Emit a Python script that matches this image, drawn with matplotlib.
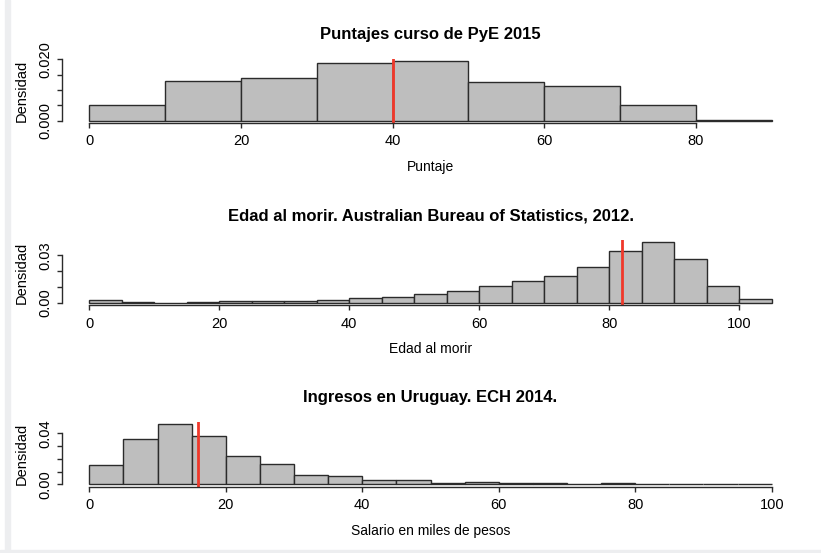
import numpy as np
from matplotlib import pyplot as plt
from matplotlib.patches import Rectangle

plt.rcParams['font.family'] = ['Liberation Sans', 'DejaVu Sans']

# Puntajes curso de PyE 2015 (bins of 10)
puntaje_breaks = [0, 10, 20, 30, 40, 50, 60, 70, 80, 90]
puntaje_dens = [0.0051, 0.0129, 0.0138, 0.0187, 0.0194, 0.0126, 0.0112, 0.0050, 0.0003]
puntaje_mark = 40

# Edad al morir (bins of 5)
edad_breaks = list(range(0, 110, 5))
edad_dens = [0.0019, 0.0004, 0.0002, 0.0008, 0.0010, 0.0013, 0.0014, 0.0019, 0.0030,
             0.0036, 0.0057, 0.0075, 0.0105, 0.0138, 0.0168, 0.0226, 0.0327, 0.0382,
             0.0275, 0.0107, 0.0023]
edad_mark = 82

# Ingresos en Uruguay (bins of 5)
ingreso_breaks = list(range(0, 105, 5))
ingreso_dens = [0.0152, 0.0353, 0.0473, 0.0382, 0.0222, 0.0159, 0.0073, 0.0068, 0.0031,
                0.0034, 0.0013, 0.0018, 0.0008, 0.0010, 0.0005, 0.0008, 0.0005, 0.0003,
                0.0003, 0.0005]
ingreso_mark = 16

W, H = 821, 553


def pixRect(top, bottom, left=62, right=799):
    return [left / W, 1 - bottom / H, (right - left) / W, (bottom - top) / H]


def drawHist(ax, breaks, dens, mark, title, xlabel, xticks, yticks, ylabels):
    lefts = np.array(breaks[:-1])
    widths = np.diff(breaks)
    ax.bar(lefts, dens, width=widths, align='edge', color='#BEBEBE',
           edgecolor='#2b2b2b', linewidth=1.0)
    ax.axvline(mark, color='#F0382A', linewidth=2.0)
    span = breaks[-1] - breaks[0]
    ax.set_xlim(breaks[0] - 0.04 * span, breaks[-1] + 0.04 * span)
    m = max(dens)
    ax.set_ylim(-0.04 * m, 1.04 * m)

    for s in ['top', 'right']:
        ax.spines[s].set_visible(False)
    for s in ['left', 'bottom']:
        ax.spines[s].set_color('#2b2b2b')
        ax.spines[s].set_linewidth(1.0)
    ax.spines['bottom'].set_bounds(xticks[0], xticks[-1])
    ax.spines['left'].set_bounds(yticks[0], yticks[-1])

    ax.set_xticks(xticks)
    ax.set_xticklabels([str(t) for t in xticks], fontsize=10.5)
    ax.set_yticks(yticks)
    ax.set_yticklabels(ylabels, fontsize=10.5, rotation=90, va='center')
    ax.tick_params(axis='both', direction='out', length=3.6, width=1.0, color='#2b2b2b')
    ax.tick_params(axis='x', pad=4.5)
    ax.tick_params(axis='y', pad=3)

    h = ax.get_position().height * H
    ax.text(0.5, 1 + 24 / h, title, transform=ax.transAxes, ha='center', va='center',
            fontsize=12, fontweight='bold')
    ax.text(0.5, -44 / h, xlabel, transform=ax.transAxes, ha='center', va='center',
            fontsize=10)
    ax.text(-40.5 / (737), 0.5, 'Densidad', transform=ax.transAxes, ha='center',
            va='center', rotation=90, fontsize=10.5)


def main():
    fig = plt.figure(figsize=(W / 100, H / 100), dpi=100)

    # screenshot frame
    fig.patches.append(Rectangle((5 / W, 0), 5 / W, 1, transform=fig.transFigure,
                                 color='#EDEEF0', zorder=0))
    fig.patches.append(Rectangle((0, 0), 1, 3 / H, transform=fig.transFigure,
                                 color='#EDEEF0', zorder=0))

    ax1 = fig.add_axes(pixRect(58.7, 123.1))
    drawHist(ax1, puntaje_breaks, puntaje_dens, puntaje_mark,
             'Puntajes curso de PyE 2015', 'Puntaje',
             [0, 20, 40, 60, 80], [0, 0.005, 0.010, 0.015, 0.020],
             ['0.000', '', '', '', '0.020'])

    ax2 = fig.add_axes(pixRect(239.8, 305.4))
    drawHist(ax2, edad_breaks, edad_dens, edad_mark,
             'Edad al morir. Australian Bureau of Statistics, 2012.', 'Edad al morir',
             [0, 20, 40, 60, 80, 100], [0, 0.01, 0.02, 0.03],
             ['0.00', '', '', '0.03'])

    ax3 = fig.add_axes(pixRect(421.6, 486.7))
    drawHist(ax3, ingreso_breaks, ingreso_dens, ingreso_mark,
             'Ingresos en Uruguay. ECH 2014.', 'Salario en miles de pesos',
             [0, 20, 40, 60, 80, 100], [0, 0.01, 0.02, 0.03, 0.04],
             ['0.00', '', '', '', '0.04'])

    fig.savefig('out.png', dpi=100)


if __name__ == "__main__":
    main()
